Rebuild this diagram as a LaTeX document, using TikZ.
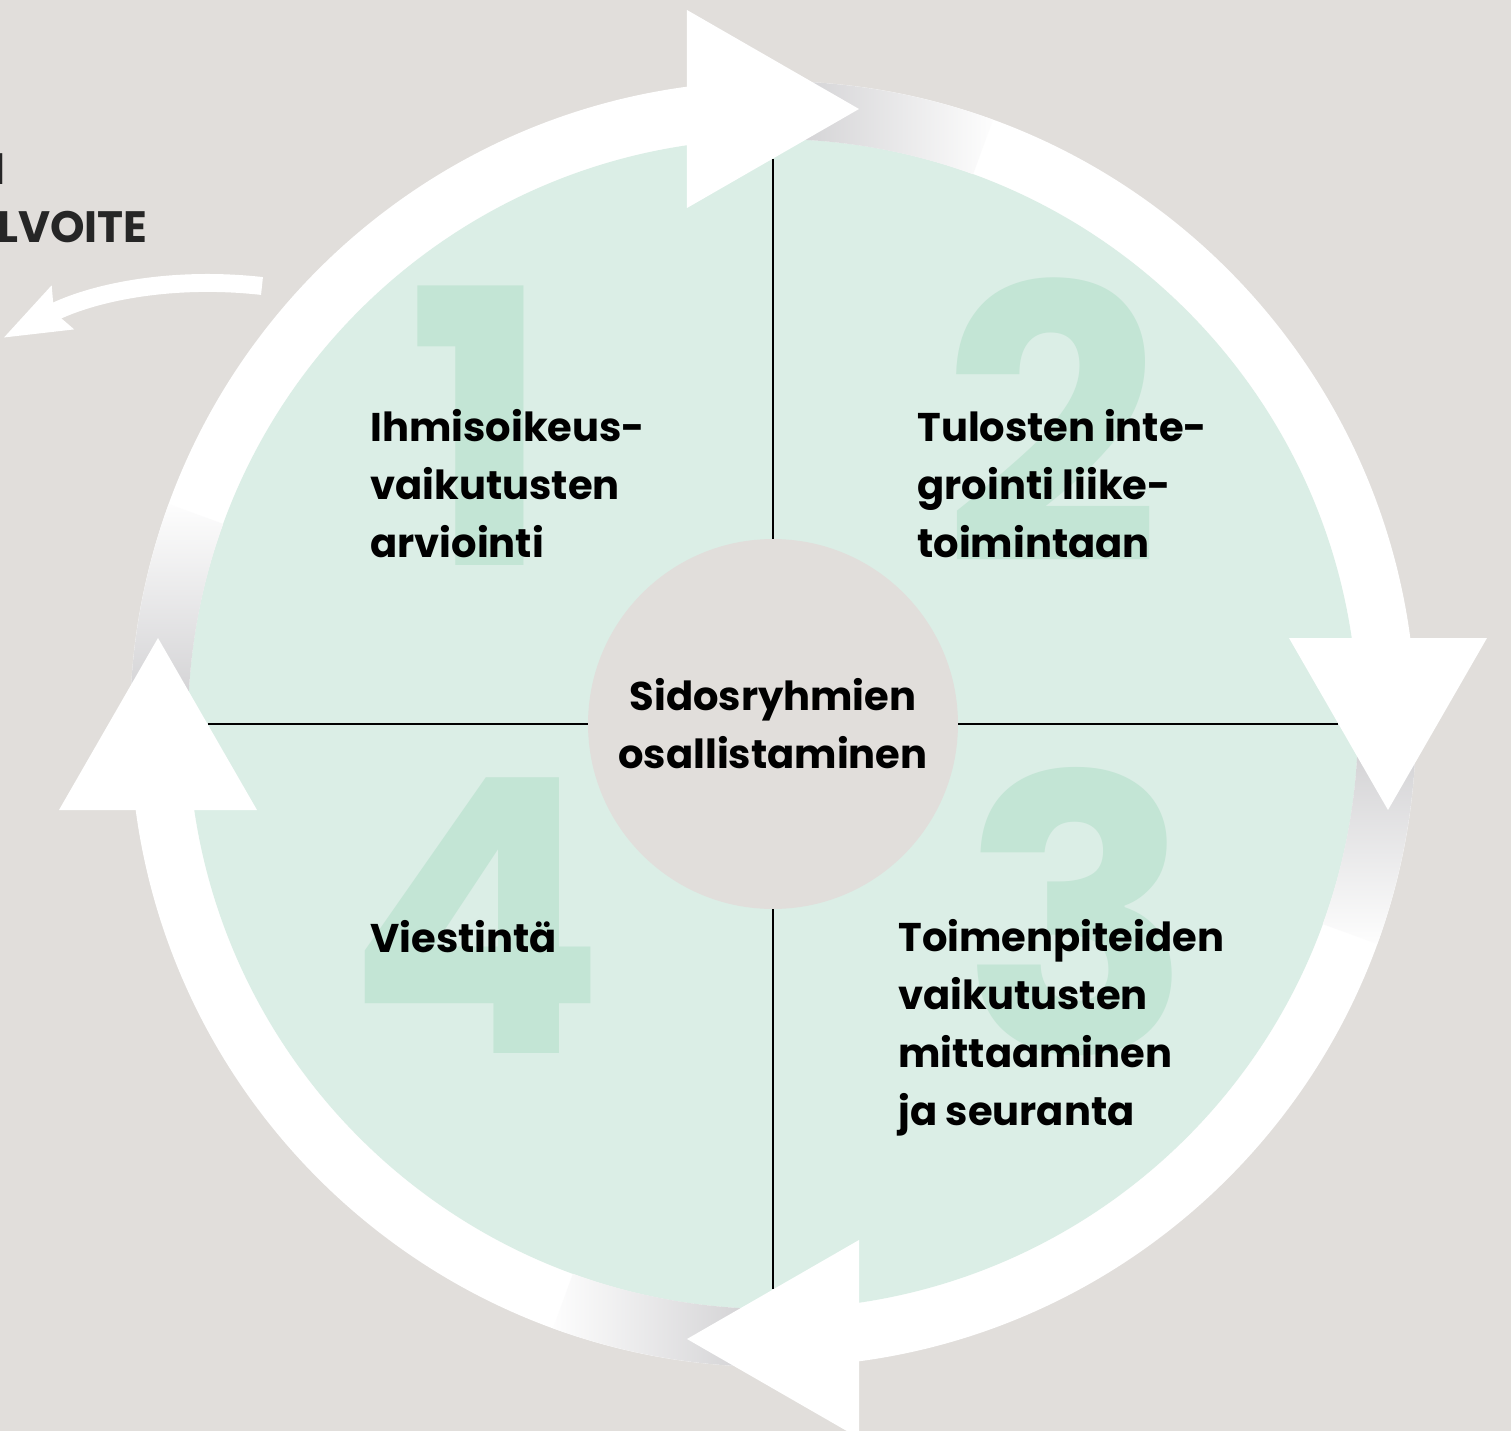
\documentclass[tikz,border=0pt]{standalone}
\usepackage{fontspec}
\setmainfont{Poppins}
\usetikzlibrary{arrows.meta}
\definecolor{cybg}{HTML}{E1DEDB}
\definecolor{cygreen}{HTML}{DBEEE6}
\definecolor{cynum}{HTML}{C3E5D5}
\definecolor{cyshade}{HTML}{C2C1C4}
\definecolor{cytext}{HTML}{262626}

\begin{document}
\begin{tikzpicture}[x=0.02cm, y=0.02cm, every node/.style={inner sep=0pt},
    steptext/.style={anchor=base west, align=left, font=\bfseries\fontsize{22.8}{32.9}\selectfont},
    bignum/.style={anchor=base, text=cynum, font=\bfseries\fontsize{218}{218}\selectfont},
    divider/.style={line width=1.6pt}]
                % Frame and background
                \useasboundingbox (-773,-707) rectangle (738,724);
                \clip (-773,-707) rectangle (738,724);
                \fill[cybg] (-773,-707) rectangle (738,724);

                % Ring and disk
                \fill[white] (0,0) circle[radius=643];
                \fill[cygreen] (0,0) circle[radius=585];

                % Shadows behind the arrow heads
                \shade[left color=cyshade, right color=white!97!cyshade]
                    (95:585) arc[start angle=95, end angle=70, radius=585] -- (70:643) arc[start angle=70, end angle=95, radius=643] -- cycle;
                \shade[top color=cyshade, bottom color=white!97!cyshade]
                    (5:585) arc[start angle=5, end angle=-20, radius=585] -- (-20:643) arc[start angle=-20, end angle=5, radius=643] -- cycle;
                \shade[right color=cyshade, left color=white!97!cyshade]
                    (-85:585) arc[start angle=-85, end angle=-110, radius=585] -- (-110:643) arc[start angle=-110, end angle=-85, radius=643] -- cycle;
                \shade[bottom color=cyshade, top color=white!97!cyshade]
                    (185:585) arc[start angle=185, end angle=160, radius=585] -- (160:643) arc[start angle=160, end angle=185, radius=643] -- cycle;

                % Big step numbers
                \node[bignum] (n1) at (-293,159) {1};
                \node[bignum] (n2) at (279,161) {2};
                \node[bignum] (n3) at (304,-329) {3};
                \node[bignum] (n4) at (-297,-329) {4};

                % Centre
                \node[circle, fill=cybg, minimum size=7.4cm, align=center,
                      font=\bfseries\fontsize{22.8}{32.9}\selectfont] (hub) at (0,0) {Sidosryhmien\\osallistaminen};

                % Dividers
                \coordinate (dn) at (0,565);
                \coordinate (de) at (565,0);
                \coordinate (ds) at (0,-565);
                \coordinate (dw) at (-565,0);
                \draw[divider] (hub.north) -- (dn);
                \draw[divider] (hub.east) -- (de);
                \draw[divider] (hub.south) -- (ds);
                \draw[divider] (hub.west) -- (dw);

                % Arrow heads on the ring
                \foreach \a in {0,-90,-180,-270}
                    \fill[white, rotate=\a] (-86,714) -- (86,615) -- (-86,516) -- cycle;

                % Step labels (base = last line)
                \node[steptext] (s1) at (-403,167) {Ihmisoikeus-\\vaikutusten\\arviointi};
                \node[steptext] (s2) at (144,167) {Tulosten inte-\\grointi liike-\\toimintaan};
                \node[steptext] (s3) at (125,-401) {Toimenpiteiden\\vaikutusten\\mittaaminen\\ja seuranta};
                \node[steptext] (s4) at (-403,-228) {Viestintä};

                % Cut text and arrow at the left
                \node[anchor=base west, text=cytext, font=\bfseries\fontsize{25}{30}\selectfont] (t1) at (-781,539) {I};
                \node[anchor=base west, text=cytext, font=\bfseries\fontsize{25}{30}\selectfont] (t2) at (-776,481) {LVOITE};
                \coordinate (loopout) at (-511,438);
                \coordinate (goal) at (-770,386);
                \draw[white, line width=10.2pt, -{Stealth[length=37pt, width=26pt, inset=4.5pt]}]
                    (loopout) .. controls (-600,448) and (-680,432) .. (goal);
            \end{tikzpicture}
\end{document}
